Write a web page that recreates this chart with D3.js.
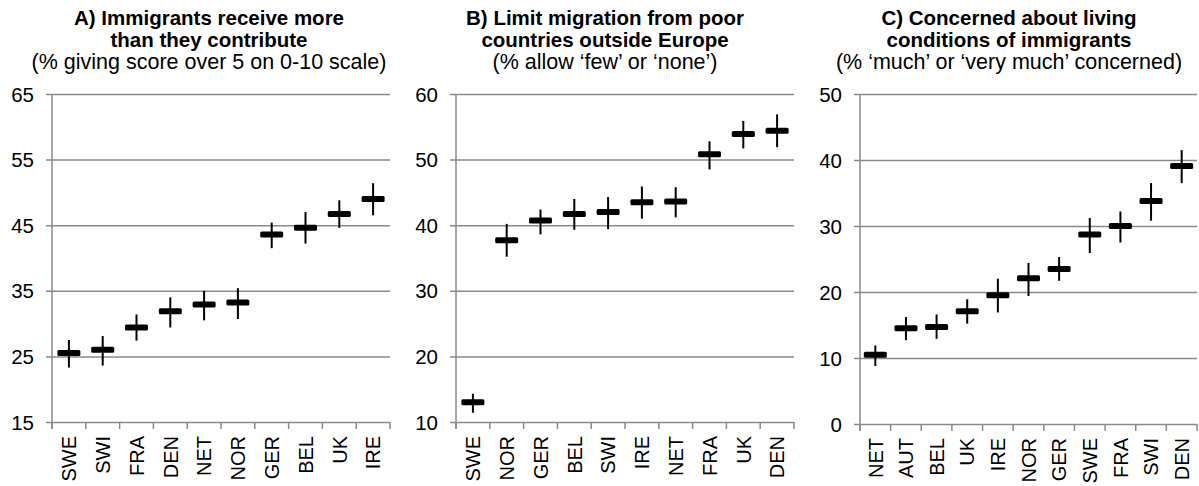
<!DOCTYPE html>
<html>
<head>
<meta charset="utf-8">
<script src="https://cdn.jsdelivr.net/npm/d3@7"></script>
<style>
  html, body { margin: 0; padding: 0; background: #fff; }
  svg { display: block; font-family: "Liberation Sans", Arial, sans-serif; }
</style>
</head>
<body>
<svg id="chart" width="1199" height="486"></svg>
<script>
// Panel A: immigrants receive more than they contribute
const catsA = ["SWE", "SWI", "FRA", "DEN", "NET", "NOR", "GER", "BEL", "UK", "IRE"];
const valA  = [25.5, 26.0, 29.4, 31.9, 32.9, 33.2, 43.6, 44.6, 46.7, 49.0];
const loA   = [23.3, 23.6, 27.4, 29.4, 30.5, 30.7, 41.5, 42.2, 44.6, 46.5];
const hiA   = [27.5, 28.1, 31.4, 34.0, 35.0, 35.4, 45.4, 47.0, 48.8, 51.4];
const ticksA = [15, 25, 35, 45, 55, 65];

// Panel B: limit migration from poor countries outside Europe
const catsB = ["SWE", "NOR", "GER", "BEL", "SWI", "IRE", "NET", "FRA", "UK", "DEN"];
const valB  = [13.0, 37.7, 40.7, 41.7, 42.0, 43.5, 43.6, 50.8, 53.9, 54.4];
const loB   = [11.4, 35.2, 38.6, 39.3, 39.4, 41.0, 41.2, 48.5, 51.7, 51.9];
const hiB   = [14.3, 40.2, 42.4, 44.0, 44.3, 45.9, 45.8, 52.8, 55.9, 56.9];
const ticksB = [10, 20, 30, 40, 50, 60];

// Panel C: concerned about living conditions of immigrants
const catsC = ["NET", "AUT", "BEL", "UK", "IRE", "NOR", "GER", "SWE", "FRA", "SWI", "DEN"];
const valC  = [10.5, 14.5, 14.7, 17.1, 19.5, 22.1, 23.5, 28.7, 30.0, 33.8, 39.1];
const loC   = [8.8, 12.7, 12.9, 15.2, 16.9, 19.4, 21.7, 25.9, 27.5, 30.8, 36.5];
const hiC   = [11.9, 16.2, 16.6, 18.9, 22.0, 24.4, 25.3, 31.2, 32.2, 36.5, 41.5];
const ticksC = [0, 10, 20, 30, 40, 50];

const titlesA = ["A) Immigrants receive more", "than they contribute"];
const subA = "(% giving score over 5 on 0-10 scale)";
const titlesB = ["B) Limit migration from poor", "countries outside Europe"];
const subB = "(% allow \u2018few\u2019 or \u2018none\u2019)";
const titlesC = ["C) Concerned about living", "conditions of immigrants"];
const subC = "(% \u2018much\u2019 or \u2018very much\u2019 concerned)";

const panels = [
  { cats: catsA, val: valA, lo: loA, hi: hiA, ticks: ticksA, titles: titlesA, sub: subA,
    x0: 52, x1: 390, y0: 94, y1: 422, cx: 209 },
  { cats: catsB, val: valB, lo: loB, hi: hiB, ticks: ticksB, titles: titlesB, sub: subB,
    x0: 456, x1: 794, y0: 94, y1: 422, cx: 605 },
  { cats: catsC, val: valC, lo: loC, hi: hiC, ticks: ticksC, titles: titlesC, sub: subC,
    x0: 860, x1: 1197, y0: 94, y1: 424, cx: 1009 }
];

const svg = d3.select("#chart");
const gridColor = "#8a8a8a";
const fam = "Liberation Sans, Arial, sans-serif";

panels.forEach(p => {
  const g = svg.append("g");
  const x = d3.scaleBand().domain(p.cats).range([p.x0, p.x1]).padding(0);
  const y = d3.scaleLinear().domain([p.ticks[0], p.ticks[p.ticks.length - 1]]).range([p.y1, p.y0]);

  // Title block
  const t = g.append("text").attr("text-anchor", "middle").attr("fill", "#000");
  p.titles.forEach((line, i) => {
    t.append("tspan").attr("x", p.cx).attr("y", 25 + i * 22)
      .attr("font-weight", "bold").attr("font-size", 20.5).text(line);
  });
  t.append("tspan").attr("x", p.cx).attr("y", 69)
    .attr("font-size", 21.5).text(p.sub);

  // Gridlines and y-axis labels
  const yAxis = d3.axisLeft(y).tickValues(p.ticks).tickSize(p.x0 - p.x1).tickSizeOuter(0).tickPadding(0);
  const ya = g.append("g").attr("transform", `translate(${p.x0},0)`).call(yAxis);
  ya.select(".domain").remove();
  ya.selectAll(".tick line").attr("stroke", gridColor).attr("stroke-width", 1.5)
    .attr("x1", -6);
  ya.selectAll(".tick text").attr("x", -18).attr("font-size", 20.5)
    .attr("font-family", fam).attr("fill", "#000")
    .attr("dy", "0.35em");

  // Left axis line
  g.append("line").attr("x1", p.x0).attr("x2", p.x0).attr("y1", p.y0).attr("y2", p.y1 + 7)
    .attr("stroke", gridColor).attr("stroke-width", 1.5);

  // Category boundary ticks below the x axis
  const bounds = p.cats.map(c => x(c)).concat([p.x1]);
  g.selectAll(".btick").data(bounds).join("line")
    .attr("x1", d => d).attr("x2", d => d)
    .attr("y1", p.y1).attr("y2", p.y1 + 7)
    .attr("stroke", gridColor).attr("stroke-width", 1.5);

  // Category labels, rotated
  const xAxis = d3.axisBottom(x).tickSize(0).tickPadding(0);
  const xa = g.append("g").attr("transform", `translate(0,${p.y1})`).call(xAxis);
  xa.select(".domain").remove();
  xa.selectAll(".tick text")
    .attr("font-size", 20).attr("font-family", fam)
    .attr("fill", "#000")
    .attr("transform", "rotate(-90)")
    .attr("text-anchor", "end")
    .attr("x", -14).attr("y", 0).attr("dy", "0.36em");

  // Confidence intervals
  g.selectAll(".err").data(p.cats).join("line")
    .attr("x1", (c) => x(c) + x.bandwidth() / 2)
    .attr("x2", (c) => x(c) + x.bandwidth() / 2)
    .attr("y1", (c, i) => y(p.lo[i]))
    .attr("y2", (c, i) => y(p.hi[i]))
    .attr("stroke", "#000").attr("stroke-width", 2);

  // Point estimates
  const mw = 23, mh = 6;
  g.selectAll(".mark").data(p.cats).join("rect")
    .attr("x", (c) => x(c) + x.bandwidth() / 2 - mw / 2)
    .attr("y", (c, i) => y(p.val[i]) - mh / 2)
    .attr("width", mw).attr("height", mh)
    .attr("rx", 1.5)
    .attr("fill", "#000");
});
</script>
</body>
</html>
